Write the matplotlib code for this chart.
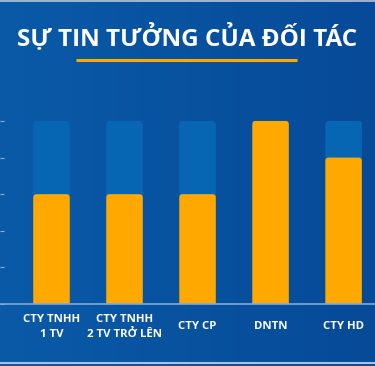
import numpy as np
import matplotlib.pyplot as plt
from matplotlib.patches import FancyBboxPatch

categories = ['CTY TNHH\n1 TV', 'CTY TNHH\n2 TV TRỞ LÊN', 'CTY CP', 'DNTN', 'CTY HD']
values = [3, 3, 3, 5, 4]
max_value = 5
title = 'SỰ TIN TƯỞNG CỦA ĐỐI TÁC'

bg_color = '#08519e'
track_color = '#0666b4'
bar_color = '#fea800'

fig = plt.figure(figsize=(3.75, 3.66), dpi=100)
fig.patch.set_facecolor(bg_color)

# subtle background gradient
bg = fig.add_axes([0, 0, 1, 1], zorder=-5)
grad = np.linspace(0, 1, 200).reshape(1, -1)
bg.imshow(grad, aspect='auto', extent=[0, 1, 0, 1],
          cmap=plt.matplotlib.colors.LinearSegmentedColormap.from_list('g', ['#0a5aa8', '#064a98']))
bg.axhline(0.997, color='#b8c8dc', lw=1.2)
bg.axhline(0.009, color='#a8c0dc', lw=1.5)
bg.set_xlim(0, 1)
bg.set_ylim(0, 1)
bg.axis('off')

fig.text(0.5, 0.896, title, ha='center', va='center', color='white',
         fontsize=17.5, fontweight='bold', family='Open Sans')
fig.add_artist(plt.Line2D([76 / 375, 297 / 375], [1 - 60 / 366] * 2,
                          color=bar_color, lw=2.2, solid_capstyle='butt'))

ax = fig.add_axes([0, (366 - 304) / 366, 1, (304 - 117.3) / 366])
ax.set_facecolor('none')
ax.set_xlim(-0.705, 4.43)
ax.set_ylim(0, 5.1)

x = np.arange(len(categories))
w = 0.5
for xi, v in zip(x, values):
    for top, col in [(max_value, track_color), (v, bar_color)]:
        p = FancyBboxPatch((xi - w / 2, -0.5), w, top + 0.5,
                           boxstyle='round,pad=0,rounding_size=0.045',
                           mutation_aspect=2.0, facecolor=col, edgecolor='none',
                           clip_on=True)
        ax.add_patch(p)

for s in ['top', 'right', 'left']:
    ax.spines[s].set_visible(False)
ax.spines['bottom'].set_color('#7fa9da')
ax.spines['bottom'].set_linewidth(1.2)

ax.set_yticks(range(0, max_value + 1))
ax.set_yticklabels([])
ax.tick_params(axis='y', direction='in', length=3, color='#8fb0d8', width=0.8)
ax.set_xticks(x)
ax.set_xticklabels([])
ax.tick_params(axis='x', length=0)

for xi, lab in zip(x, categories):
    ax.annotate(lab, (xi, 0), xycoords=('data', 'axes fraction'),
                xytext=(0, -16.5), textcoords='offset points', ha='center', va='center',
                color='white', fontsize=8.2, fontweight='bold', family='Open Sans',
                linespacing=1.4)

fig.savefig('out.png', dpi=100, facecolor=fig.get_facecolor())
